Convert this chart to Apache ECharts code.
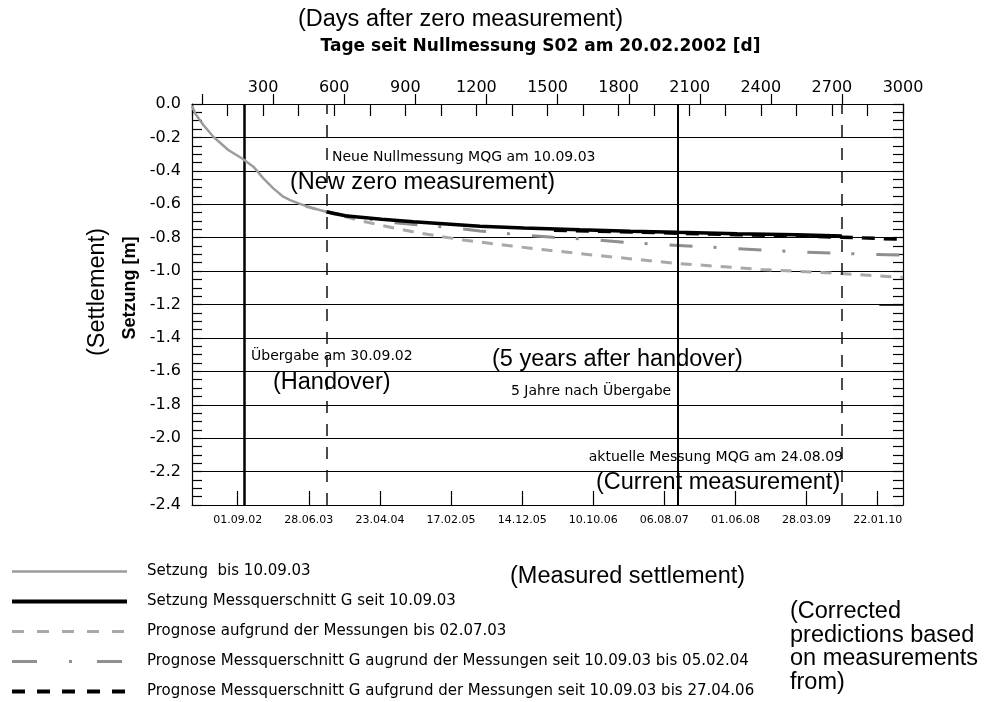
<!DOCTYPE html>
<html><head><meta charset="utf-8">
<script src="https://cdn.jsdelivr.net/npm/echarts@6/dist/echarts.min.js"></script>
<style>html,body{margin:0;padding:0;background:#fff}#c{width:986px;height:702px}</style>
</head><body><div id="c"></div>
<script>
// ---- data ----
const topTickLabels = [300, 600, 900, 1200, 1500, 1800, 2100, 2400, 2700, 3000];
const bottomLabelDays = [193, 493, 793, 1093, 1393, 1693, 1993, 2293, 2593, 2893];
const bottomLabels = ['01.09.02', '28.06.03', '23.04.04', '17.02.05', '14.12.05', '10.10.06', '06.08.07', '01.06.08', '28.03.09', '22.01.10'];
const bottomShortTickDays = [43, 343, 643, 943, 1243, 1543, 1843, 2143, 2443, 2743];

const seriesNames = [
  'Setzung  bis 10.09.03',
  'Setzung Messquerschnitt G seit 10.09.03',
  'Prognose aufgrund der Messungen bis 02.07.03',
  'Prognose Messquerschnitt G augrund der Messungen seit 10.09.03 bis 05.02.04',
  'Prognose Messquerschnitt G aufgrund der Messungen seit 10.09.03 bis 27.04.06'
];

const grayDays = [0, 13, 30, 48, 90, 153, 210, 259, 301, 343, 385, 414, 450, 500, 567];
const grayVals = [-0.01, -0.056, -0.09, -0.126, -0.196, -0.275, -0.325, -0.375, -0.445, -0.505, -0.555, -0.575, -0.595, -0.62, -0.645];

const blackDays = [567, 600, 653, 723, 800, 934, 1075, 1215, 1400, 1637, 1850, 2045, 2300, 2550, 2742];
const blackVals = [-0.645, -0.655, -0.671, -0.679, -0.69, -0.705, -0.718, -0.731, -0.742, -0.753, -0.761, -0.768, -0.776, -0.783, -0.79];

const prog1Days = [480, 567, 700, 793, 950, 1145, 1350, 1497, 1700, 2045, 2400, 2734, 3000];
const prog1Vals = [-0.612, -0.645, -0.695, -0.725, -0.77, -0.814, -0.85, -0.874, -0.905, -0.954, -0.99, -1.014, -1.038];

const prog2Days = [567, 700, 850, 1096, 1215, 1376, 1523, 1675, 1827, 1975, 2122, 2281, 2425, 2576, 2726, 2878, 3000];
const prog2Vals = [-0.645, -0.68, -0.71, -0.741, -0.76, -0.782, -0.798, -0.81, -0.828, -0.84, -0.852, -0.864, -0.875, -0.887, -0.894, -0.9, -0.905];

const prog3Days = [1527, 1800, 2045, 2300, 2550, 2742, 3000];
const prog3Vals = [-0.755, -0.764, -0.773, -0.782, -0.79, -0.797, -0.81];

const eventDays = [222, 567, 2048, 2742]; // Übergabe, Neue Nullmessung, 5 Jahre, aktuelle Messung

const DE = 'DejaVu Sans';
const EN = 'Liberation Sans';

function pairs(xs, ys) { return xs.map((x, i) => [x, ys[i]]); }

const chart = echarts.init(document.getElementById('c'), null, { renderer: 'canvas' });

const yCommon = {
  type: 'value', min: -2.4, max: 0, interval: 0.2,
  axisLine: { show: true, onZero: false, lineStyle: { color: '#000', width: 1.2 } },
  axisTick: { show: true, inside: true, length: 10, lineStyle: { color: '#000', width: 1.2 } },
  minorTick: { show: true, splitNumber: 4, length: 10, lineStyle: { color: '#000', width: 1.2 } },
  minorSplitLine: { show: false }
};

const en = size => size + 'px "' + EN + '"';
const de = size => size + 'px "' + DE + '"';
const EN_SIZE = 23.5;

const option = {
  animation: false,
  backgroundColor: '#fff',
  grid: { left: 192, right: 83, top: 104, bottom: 197, containLabel: false },
  xAxis: [
    {
      type: 'value', position: 'top', min: 0, max: 3000, interval: 150,
      name: 'Tage seit Nullmessung S02 am 20.02.2002 [d]',
      nameLocation: 'middle', nameGap: 49,
      nameTextStyle: { fontFamily: DE, fontWeight: 'bold', fontSize: 17, color: '#000', padding: [0, 0, 0, -14] },
      axisLine: { show: true, onZero: false, lineStyle: { color: '#000', width: 1.2 } },
      axisTick: { show: true, inside: true, length: 12, lineStyle: { color: '#000', width: 1.2 } },
      axisLabel: {
        show: true, margin: 8, fontFamily: DE, fontSize: 16, color: '#000',
        customValues: topTickLabels, formatter: v => String(v)
      },
      splitLine: { show: false }
    },
    {
      type: 'value', position: 'bottom', min: 0, max: 3000,
      axisLine: { show: true, onZero: false, lineStyle: { color: '#000', width: 1.2 } },
      axisTick: { show: true, inside: true, length: 14, customValues: bottomLabelDays, lineStyle: { color: '#000', width: 1.2 } },
      axisLabel: {
        show: true, margin: 10, fontFamily: DE, fontSize: 11, color: '#000',
        customValues: bottomLabelDays,
        formatter: v => { const i = bottomLabelDays.indexOf(Math.round(v)); return i >= 0 ? bottomLabels[i] : ''; }
      },
      splitLine: { show: false }
    },
    {
      type: 'value', position: 'bottom', min: 0, max: 3000,
      axisLine: { show: false },
      axisTick: { show: true, inside: true, length: 10, customValues: bottomShortTickDays, lineStyle: { color: '#000', width: 1.2 } },
      axisLabel: { show: false },
      splitLine: { show: false }
    }
  ],
  yAxis: [
    Object.assign({}, yCommon, {
      position: 'left',
      axisLabel: { show: true, margin: 11, fontFamily: DE, fontSize: 16, color: '#000', formatter: v => v.toFixed(1) },
      splitLine: { show: true, lineStyle: { color: '#000', width: 1.2 } }
    }),
    Object.assign({}, yCommon, {
      position: 'right',
      axisLabel: { show: false },
      splitLine: { show: false }
    })
  ],
  legend: {
    orient: 'vertical', left: 10, top: 564, padding: 0,
    itemWidth: 115, itemHeight: 14, itemGap: 15,
    selectedMode: false,
    itemStyle: { opacity: 0 },
    lineStyle: { width: 'inherit', type: 'inherit' },
    textStyle: { fontFamily: DE, fontSize: 15, color: '#000', padding: [0, 0, 0, 15], lineHeight: 14 },
    data: [
      { name: seriesNames[0] },
      { name: seriesNames[1], lineStyle: { width: 4 } },
      { name: seriesNames[2], lineStyle: { type: [12, 13] } },
      { name: seriesNames[3], lineStyle: { type: [25, 32, 3, 25] } },
      { name: seriesNames[4], lineStyle: { type: [13, 12], width: 4 } }
    ]
  },
  series: [
    {
      name: seriesNames[2], type: 'line', xAxisIndex: 0, yAxisIndex: 0, symbol: 'none', z: 3,
      lineStyle: { color: '#a9a9a9', width: 3, type: [11, 9] },
      itemStyle: { color: '#a9a9a9' },
      data: pairs(prog1Days, prog1Vals)
    },
    {
      name: seriesNames[3], type: 'line', xAxisIndex: 0, yAxisIndex: 0, symbol: 'none', z: 3,
      lineStyle: { color: '#8f8f8f', width: 3, type: [23, 21, 3, 22] },
      itemStyle: { color: '#8f8f8f' },
      data: pairs(prog2Days, prog2Vals)
    },
    {
      name: seriesNames[4], type: 'line', xAxisIndex: 0, yAxisIndex: 0, symbol: 'none', z: 4,
      lineStyle: { color: '#000', width: 3.5, type: [13, 9] },
      itemStyle: { color: '#000' },
      data: pairs(prog3Days, prog3Vals)
    },
    {
      name: seriesNames[1], type: 'line', xAxisIndex: 0, yAxisIndex: 0, symbol: 'none', z: 5,
      lineStyle: { color: '#000', width: 3.5 },
      itemStyle: { color: '#000' },
      data: pairs(blackDays, blackVals),
      markLine: {
        silent: true, symbol: 'none', animation: false,
        label: { show: false },
        data: [
          { xAxis: eventDays[0], lineStyle: { color: '#000', width: 2.5, type: 'solid' } },
          { xAxis: eventDays[1], lineStyle: { color: '#111', width: 1.5, type: [12, 11] } },
          { xAxis: eventDays[2], lineStyle: { color: '#000', width: 2, type: 'solid' } },
          { xAxis: eventDays[3], lineStyle: { color: '#111', width: 1.5, type: [12, 11] } },
          [{ coord: [2900, -1.2], lineStyle: { color: '#000', width: 1.5, type: 'solid' } }, { coord: [3000, -1.2] }]
        ]
      }
    },
    {
      name: seriesNames[0], type: 'line', xAxisIndex: 0, yAxisIndex: 0, symbol: 'none', z: 6,
      lineStyle: { color: '#9c9c9c', width: 2.5 },
      itemStyle: { color: '#9c9c9c' },
      data: pairs(grayDays, grayVals)
    }
  ],
  graphic: [
    { type: 'text', x: 298, y: 20, style: { text: '(Days after zero measurement)', font: en(EN_SIZE), fill: '#000', textAlign: 'left', textVerticalAlign: 'middle' } },
    { type: 'text', x: 98, y: 292, rotation: Math.PI / 2, style: { text: '(Settlement)', font: en(EN_SIZE), fill: '#000', textAlign: 'center', textVerticalAlign: 'middle' } },
    { type: 'text', x: 130, y: 288, rotation: Math.PI / 2, style: { text: 'Setzung [m]', font: 'bold ' + en(18), fill: '#000', textAlign: 'center', textVerticalAlign: 'middle' } },
    { type: 'text', x: 332, y: 157, z: 10, style: { text: 'Neue Nullmessung MQG am 10.09.03', font: de(14), fill: '#000', textAlign: 'left', textVerticalAlign: 'middle' } },
    { type: 'text', x: 290, y: 183, z: 10, style: { text: '(New zero measurement)', font: en(EN_SIZE), fill: '#000', textAlign: 'left', textVerticalAlign: 'middle' } },
    { type: 'text', x: 251, y: 356, z: 10, style: { text: 'Übergabe am 30.09.02', font: de(14), fill: '#000', textAlign: 'left', textVerticalAlign: 'middle' } },
    { type: 'text', x: 273, y: 383, z: 10, style: { text: '(Handover)', font: en(EN_SIZE), fill: '#000', textAlign: 'left', textVerticalAlign: 'middle' } },
    { type: 'text', x: 492, y: 360, z: 10, style: { text: '(5 years after handover)', font: en(EN_SIZE), fill: '#000', textAlign: 'left', textVerticalAlign: 'middle' } },
    { type: 'text', x: 511, y: 391, z: 10, style: { text: '5 Jahre nach Übergabe', font: de(14), fill: '#000', textAlign: 'left', textVerticalAlign: 'middle' } },
    { type: 'text', x: 843, y: 457, z: 10, style: { text: 'aktuelle Messung MQG am 24.08.09', font: de(14), fill: '#000', textAlign: 'right', textVerticalAlign: 'middle' } },
    { type: 'text', x: 596, y: 483, z: 10, style: { text: '(Current measurement)', font: en(EN_SIZE), fill: '#000', textAlign: 'left', textVerticalAlign: 'middle' } },
    { type: 'text', x: 510, y: 577, style: { text: '(Measured settlement)', font: en(EN_SIZE), fill: '#000', textAlign: 'left', textVerticalAlign: 'middle' } },
    { type: 'text', x: 790, y: 600, style: { text: '(Corrected\npredictions based\non measurements\nfrom)', font: en(EN_SIZE), lineHeight: 23.5, fill: '#000', textAlign: 'left', textVerticalAlign: 'top' } }
  ]
};
chart.setOption(option);
</script></body></html>
